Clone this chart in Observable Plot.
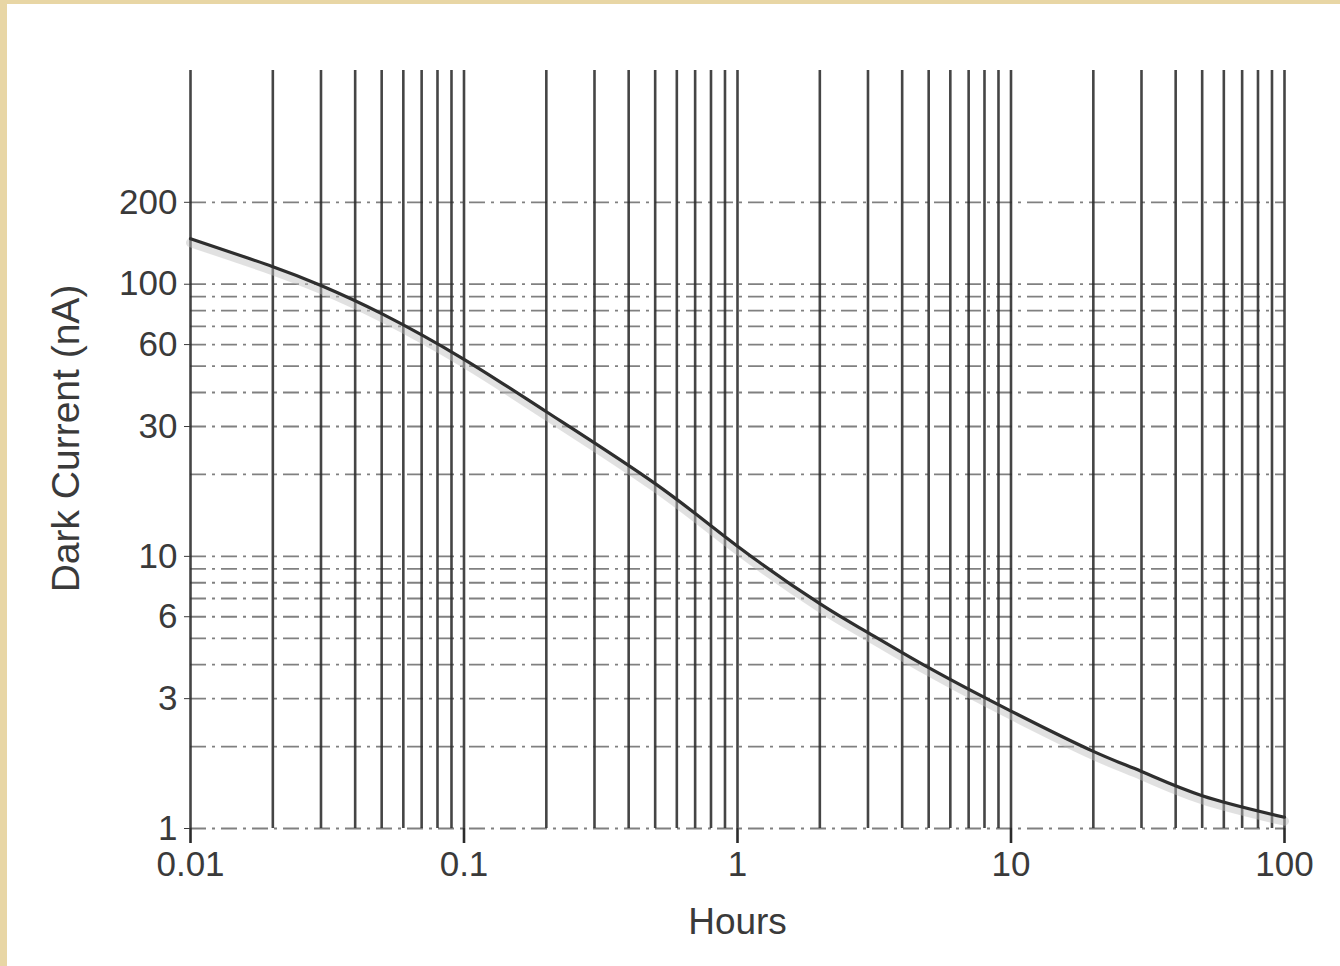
<!DOCTYPE html>
<html>
<head>
<meta charset="utf-8">
<script src="https://cdn.jsdelivr.net/npm/d3@7"></script>
<script src="https://cdn.jsdelivr.net/npm/@observablehq/plot@0.6"></script>
<style>
  html, body { margin: 0; padding: 0; }
  body { background: #e8d6a5; padding: 4px 0 0 7px; width: 1333px; height: 962px; overflow: hidden; }
  #chart { width: 1333px; height: 962px; background: #ffffff; }
</style>
</head>
<body>
<div id="chart"></div>
<script>
// Curve values
const hours = [0.01, 0.02, 0.03, 0.05, 0.1, 0.2, 0.5, 1, 2, 3, 5, 10, 20, 30, 50, 100];
const darkCurrent = [147, 116, 99, 78, 53, 34, 18.5, 10.9, 6.7, 5.25, 3.9, 2.7, 1.92, 1.62, 1.32, 1.1];

// Axis tick labels
const xTicks = [0.01, 0.1, 1, 10, 100];
const yTicks = [1, 3, 6, 10, 30, 60, 100, 200];

// Log grid lines
const xGrid = [0.01, 0.02, 0.03, 0.04, 0.05, 0.06, 0.07, 0.08, 0.09,
               0.1, 0.2, 0.3, 0.4, 0.5, 0.6, 0.7, 0.8, 0.9,
               1, 2, 3, 4, 5, 6, 7, 8, 9,
               10, 20, 30, 40, 50, 60, 70, 80, 90, 100];
const yGrid = [1, 2, 3, 4, 5, 6, 7, 8, 9,
               10, 20, 30, 40, 50, 60, 70, 80, 90,
               100, 200];

const xLabel = "Hours";
const yLabel = "Dark Current (nA)";

const curve = hours.map((h, i) => ({hours: h, current: darkCurrent[i]}));

const chart = Plot.plot({
  width: 1333,
  height: 962,
  marginLeft: 183,
  marginRight: 56,
  marginTop: 66,
  marginBottom: 138,
  x: {type: "log", domain: [0.01, 100]},
  y: {type: "log", domain: [1, 610]},
  style: {fontFamily: "'Liberation Sans', Arial, sans-serif", color: "#3a3a3a", background: "white"},
  marks: [
    Plot.ruleY(yGrid, {stroke: "#4a4a4a", strokeWidth: 1.8, strokeDasharray: "16,6,3,6", strokeOpacity: 0.7}),
    Plot.ruleX(xGrid, {stroke: "#2b2b2b", strokeWidth: 2.6, strokeOpacity: 0.88}),
    Plot.line(curve, {x: "hours", y: "current", curve: "natural", stroke: "#bdbdbd", strokeWidth: 9, strokeOpacity: 0.45, dy: 4}),
    Plot.line(curve, {x: "hours", y: "current", curve: "natural", stroke: "#2e2e2e", strokeWidth: 3.2}),
    Plot.axisX(xTicks, {tickSize: 15, tickPadding: 8, fontSize: 35, tickFormat: d => String(d), label: null, stroke: "#2b2b2b", strokeWidth: 2.6}),
    Plot.axisY(yTicks, {tickSize: 6, tickPadding: 7, fontSize: 35, tickFormat: d => String(d), label: null}),
    Plot.text([xLabel], {frameAnchor: "bottom", dy: 94, fontSize: 37, lineAnchor: "middle"}),
    Plot.text([yLabel], {frameAnchor: "left", textAnchor: "middle", rotate: -90, dx: -124, dy: -11, fontSize: 39, lineAnchor: "middle"})
  ]
});
document.getElementById("chart").appendChild(chart);
</script>
</body>
</html>
